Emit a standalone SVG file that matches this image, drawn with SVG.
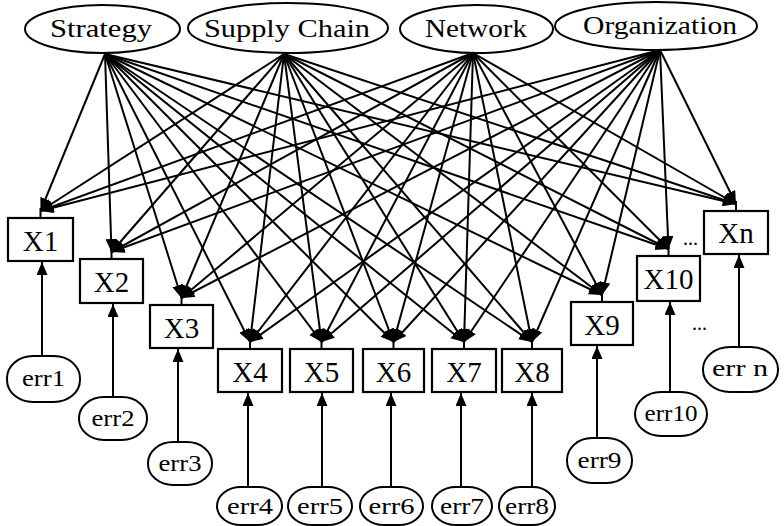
<svg xmlns="http://www.w3.org/2000/svg" width="784" height="526" viewBox="0 0 784 526" font-family="'Liberation Serif', 'Times New Roman', serif">
<style>
.lat{fill:#fff;stroke:#000;stroke-width:2}
.box{fill:#fff;stroke:#000;stroke-width:2.2}
.err{fill:#fff;stroke:#000;stroke-width:2}
.t{font-family:"Liberation Serif","Times New Roman",serif;fill:#000}
.lt{font-size:26px}
.xt{font-size:29px;text-anchor:middle}
.et{font-size:23px;text-anchor:middle}
.c line{stroke:#000;stroke-width:2;fill:none}
.c .a{marker-end:url(#ah)}
</style>
<defs>
<marker id="ah" markerUnits="userSpaceOnUse" markerWidth="14" markerHeight="12" refX="13" refY="5.5" orient="auto">
<path d="M0,0 L13,5.5 L0,11 z" fill="#000"/>
</marker>
</defs>
<rect width="784" height="526" fill="#fff"/>
<g id="connectors" class="c">
<line class="a" x1="105" y1="54" x2="40.5" y2="211"/>
<line class="a" x1="105" y1="54" x2="111.5" y2="252"/>
<line class="a" x1="105" y1="54" x2="181.5" y2="298"/>
<line class="a" x1="105" y1="54" x2="250" y2="342"/>
<line class="a" x1="105" y1="54" x2="321.5" y2="342"/>
<line class="a" x1="105" y1="54" x2="393.5" y2="342"/>
<line class="a" x1="105" y1="54" x2="464" y2="342"/>
<line class="a" x1="105" y1="54" x2="532" y2="342"/>
<line class="a" x1="105" y1="54" x2="602" y2="295"/>
<line class="a" x1="105" y1="54" x2="668.5" y2="249"/>
<line class="a" x1="105" y1="54" x2="736" y2="204"/>
<line class="a" x1="284" y1="54" x2="40.5" y2="211"/>
<line class="a" x1="284" y1="54" x2="111.5" y2="252"/>
<line class="a" x1="284" y1="54" x2="181.5" y2="298"/>
<line class="a" x1="284" y1="54" x2="250" y2="342"/>
<line class="a" x1="284" y1="54" x2="321.5" y2="342"/>
<line class="a" x1="284" y1="54" x2="393.5" y2="342"/>
<line class="a" x1="284" y1="54" x2="464" y2="342"/>
<line class="a" x1="284" y1="54" x2="532" y2="342"/>
<line class="a" x1="284" y1="54" x2="602" y2="295"/>
<line class="a" x1="284" y1="54" x2="668.5" y2="249"/>
<line class="a" x1="284" y1="54" x2="736" y2="204"/>
<line class="a" x1="473" y1="53" x2="40.5" y2="211"/>
<line class="a" x1="473" y1="53" x2="111.5" y2="252"/>
<line class="a" x1="473" y1="53" x2="181.5" y2="298"/>
<line class="a" x1="473" y1="53" x2="250" y2="342"/>
<line class="a" x1="473" y1="53" x2="321.5" y2="342"/>
<line class="a" x1="473" y1="53" x2="393.5" y2="342"/>
<line class="a" x1="473" y1="53" x2="464" y2="342"/>
<line class="a" x1="473" y1="53" x2="532" y2="342"/>
<line class="a" x1="473" y1="53" x2="602" y2="295"/>
<line class="a" x1="473" y1="53" x2="668.5" y2="249"/>
<line class="a" x1="473" y1="53" x2="736" y2="204"/>
<line class="a" x1="660" y1="50" x2="40.5" y2="211"/>
<line class="a" x1="660" y1="50" x2="111.5" y2="252"/>
<line class="a" x1="660" y1="50" x2="181.5" y2="298"/>
<line class="a" x1="660" y1="50" x2="250" y2="342"/>
<line class="a" x1="660" y1="50" x2="321.5" y2="342"/>
<line class="a" x1="660" y1="50" x2="393.5" y2="342"/>
<line class="a" x1="660" y1="50" x2="464" y2="342"/>
<line class="a" x1="660" y1="50" x2="532" y2="342"/>
<line class="a" x1="660" y1="50" x2="602" y2="295"/>
<line class="a" x1="660" y1="50" x2="668.5" y2="249"/>
<line class="a" x1="660" y1="50" x2="736" y2="204"/>
<line x1="40.5" y1="208" x2="40.5" y2="218"/>
<line x1="111.5" y1="249" x2="111.5" y2="259"/>
<line x1="181.5" y1="295" x2="181.5" y2="305"/>
<line x1="250" y1="339" x2="250" y2="349"/>
<line x1="321.5" y1="339" x2="321.5" y2="349"/>
<line x1="393.5" y1="339" x2="393.5" y2="349"/>
<line x1="464" y1="339" x2="464" y2="349"/>
<line x1="532" y1="339" x2="532" y2="349"/>
<line x1="602" y1="292" x2="602" y2="302"/>
<line x1="668.5" y1="246" x2="668.5" y2="256"/>
<line x1="736" y1="201" x2="736" y2="211"/>
<line class="a" x1="42" y1="356" x2="42" y2="262"/>
<line class="a" x1="113" y1="397" x2="113" y2="304"/>
<line class="a" x1="178" y1="442" x2="178" y2="349"/>
<line class="a" x1="248" y1="487" x2="248" y2="393"/>
<line class="a" x1="322" y1="487" x2="322" y2="393"/>
<line class="a" x1="391" y1="487" x2="391" y2="393"/>
<line class="a" x1="461" y1="487" x2="461" y2="393"/>
<line class="a" x1="532" y1="487" x2="532" y2="393"/>
<line class="a" x1="597" y1="438" x2="597" y2="346"/>
<line class="a" x1="670" y1="392" x2="670" y2="302"/>
<line class="a" x1="739" y1="347" x2="739" y2="255"/>
</g>
<g id="strategy"><ellipse class="lat" cx="102.5" cy="29" rx="77.5" ry="24"/><text class="t lt" x="50" y="37" textLength="102" lengthAdjust="spacingAndGlyphs">Strategy</text></g>
<g id="supply-chain"><ellipse class="lat" cx="288" cy="28" rx="100" ry="25"/><text class="t lt" x="204" y="37" textLength="166" lengthAdjust="spacingAndGlyphs">Supply  Chain</text></g>
<g id="network"><ellipse class="lat" cx="476.5" cy="29" rx="76.5" ry="24"/><text class="t lt" x="425" y="37" textLength="102" lengthAdjust="spacingAndGlyphs">Network</text></g>
<g id="organization"><ellipse class="lat" cx="656" cy="26" rx="101" ry="24"/><text class="t lt" x="583" y="34" textLength="154" lengthAdjust="spacingAndGlyphs">Organization</text></g>
<g id="x1"><rect class="box" x="8" y="218" width="65" height="43"/><text class="t xt" x="40.5" y="251">X1</text></g>
<g id="x2"><rect class="box" x="80" y="259" width="63" height="44"/><text class="t xt" x="111.5" y="292">X2</text></g>
<g id="x3"><rect class="box" x="150" y="305" width="63" height="43"/><text class="t xt" x="181.5" y="338">X3</text></g>
<g id="x4"><rect class="box" x="218" y="349" width="64" height="43"/><text class="t xt" x="250" y="382">X4</text></g>
<g id="x5"><rect class="box" x="290" y="349" width="63" height="43"/><text class="t xt" x="321.5" y="382">X5</text></g>
<g id="x6"><rect class="box" x="363" y="349" width="61" height="43"/><text class="t xt" x="393.5" y="382">X6</text></g>
<g id="x7"><rect class="box" x="432" y="349" width="64" height="43"/><text class="t xt" x="464" y="382">X7</text></g>
<g id="x8"><rect class="box" x="502" y="349" width="60" height="43"/><text class="t xt" x="532" y="382">X8</text></g>
<g id="x9"><rect class="box" x="571" y="302" width="62" height="43"/><text class="t xt" x="602" y="335">X9</text></g>
<g id="x10"><rect class="box" x="637" y="256" width="63" height="45"/><text class="t xt" x="668.5" y="289">X10</text></g>
<g id="xn"><rect class="box" x="704" y="211" width="64" height="43"/><text class="t xt" x="736" y="243">Xn</text></g>
<g id="dots"><text class="t" x="683" y="245" font-size="20">...</text><text class="t" x="692" y="330" font-size="20">...</text></g>
<g id="err1"><rect class="err" x="7" y="356" width="73" height="46" rx="26" ry="22"/><text class="t et" x="43.5" y="386" textLength="43" lengthAdjust="spacingAndGlyphs">err1</text></g>
<g id="err2"><rect class="err" x="79" y="397" width="68" height="43" rx="25" ry="21"/><text class="t et" x="113" y="426" textLength="43" lengthAdjust="spacingAndGlyphs">err2</text></g>
<g id="err3"><rect class="err" x="148" y="442" width="64" height="43" rx="25" ry="21"/><text class="t et" x="180" y="471" textLength="43" lengthAdjust="spacingAndGlyphs">err3</text></g>
<g id="err4"><rect class="err" x="217" y="487" width="65" height="38" rx="24" ry="19"/><text class="t et" x="250" y="514" textLength="46" lengthAdjust="spacingAndGlyphs">err4</text></g>
<g id="err5"><rect class="err" x="288" y="487" width="64" height="38" rx="24" ry="19"/><text class="t et" x="320" y="514" textLength="46" lengthAdjust="spacingAndGlyphs">err5</text></g>
<g id="err6"><rect class="err" x="360" y="487" width="63" height="38" rx="24" ry="19"/><text class="t et" x="391.5" y="514" textLength="46" lengthAdjust="spacingAndGlyphs">err6</text></g>
<g id="err7"><rect class="err" x="432" y="487" width="60" height="38" rx="24" ry="19"/><text class="t et" x="462" y="514" textLength="44" lengthAdjust="spacingAndGlyphs">err7</text></g>
<g id="err8"><rect class="err" x="499" y="487" width="56" height="38" rx="22" ry="19"/><text class="t et" x="527" y="514" textLength="44" lengthAdjust="spacingAndGlyphs">err8</text></g>
<g id="err9"><rect class="err" x="567" y="438" width="65" height="45" rx="25" ry="22"/><text class="t et" x="599.5" y="468" textLength="44" lengthAdjust="spacingAndGlyphs">err9</text></g>
<g id="err10"><rect class="err" x="635" y="392" width="72" height="44" rx="26" ry="22"/><text class="t et" x="671" y="421" textLength="53" lengthAdjust="spacingAndGlyphs">err10</text></g>
<g id="errn"><rect class="err" x="703" y="347" width="75" height="45" rx="27" ry="22"/><text class="t et" x="740" y="376" textLength="56" lengthAdjust="spacingAndGlyphs">err  n</text></g>
</svg>
